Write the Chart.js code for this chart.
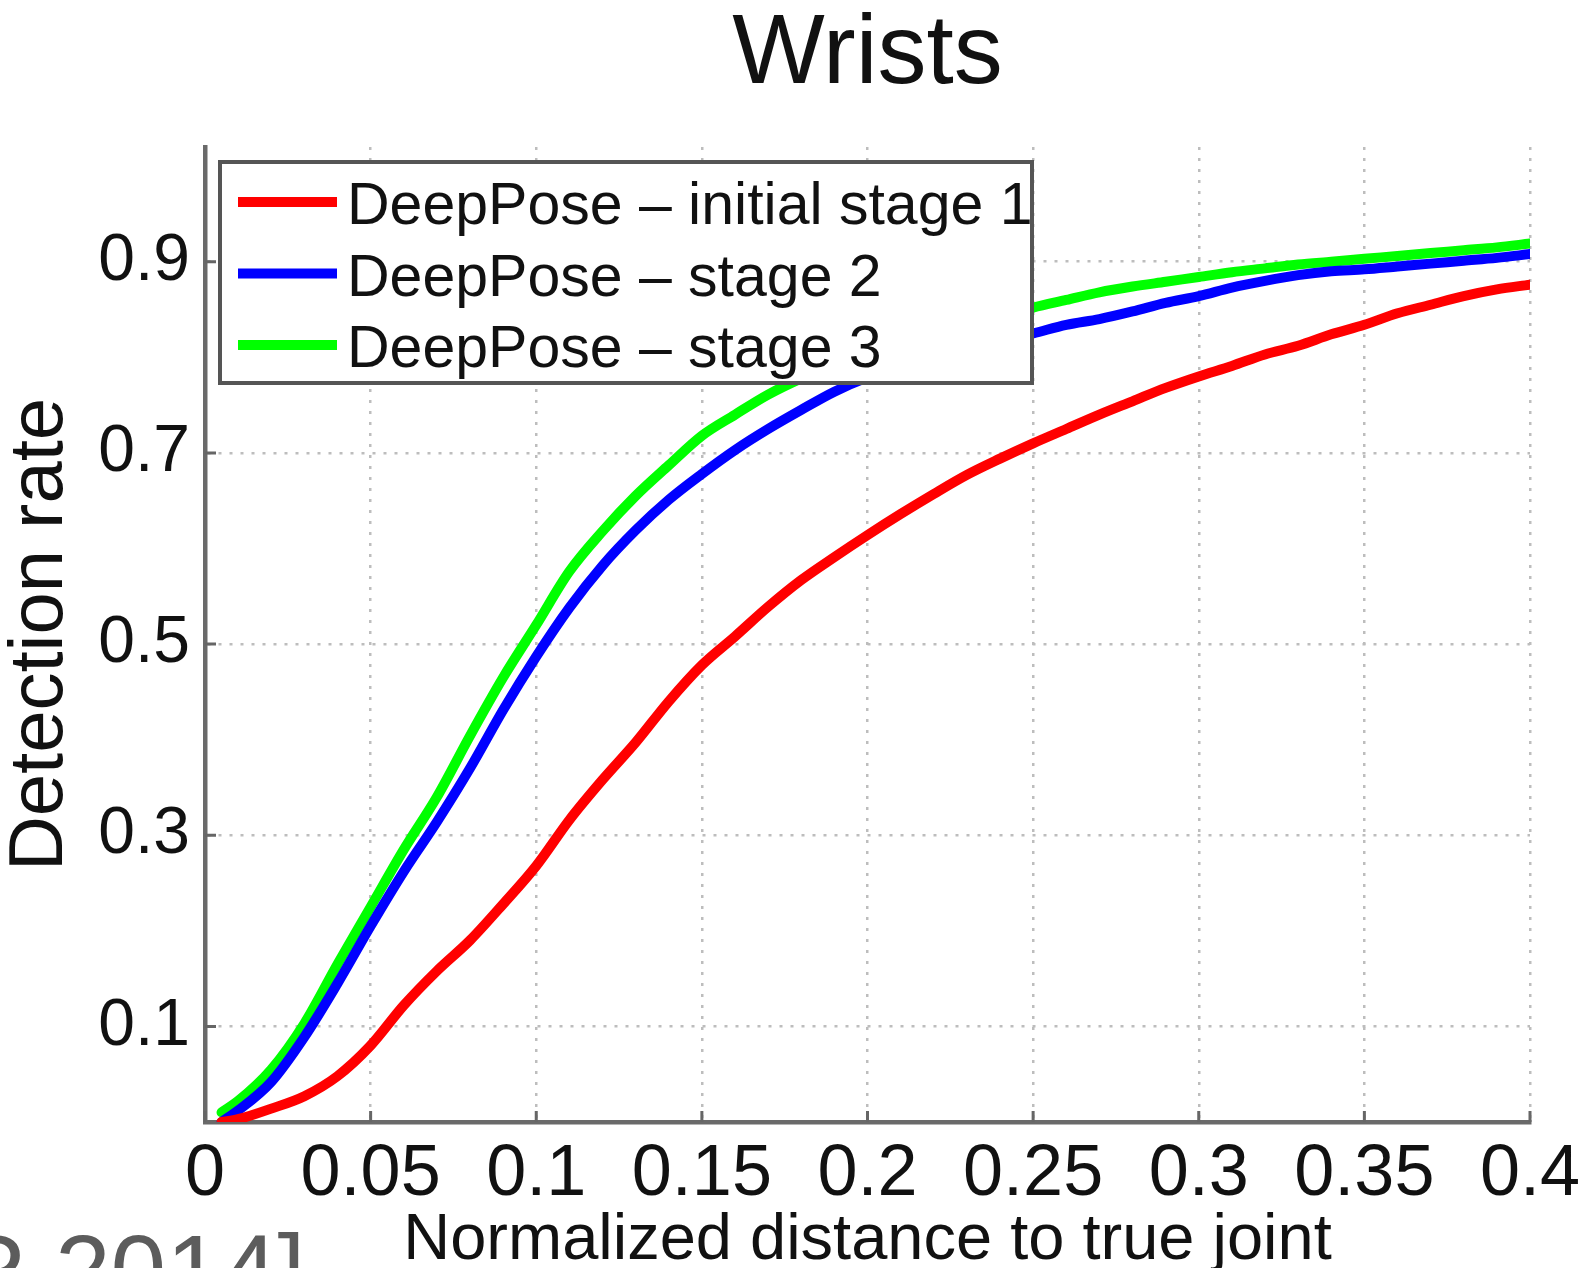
<!DOCTYPE html>
<html>
<head>
<meta charset="utf-8">
<title>Wrists</title>
<script src="https://cdn.jsdelivr.net/npm/chart.js@4.4.1/dist/chart.umd.min.js"></script>
<style>
  html, body { margin: 0; padding: 0; background: #ffffff; overflow: hidden; }
  #wrap { position: relative; width: 1589px; height: 1268px; }
  canvas { display: block; }
</style>
</head>
<body>
<div id="wrap"><canvas id="chart" width="1589" height="1268"></canvas></div>
<script>
// Normalized distance to the true joint (x) at which each detection rate is sampled
const distances = [0.005, 0.01, 0.02, 0.03, 0.04, 0.05, 0.06, 0.07, 0.08, 0.09,
  0.10, 0.11, 0.12, 0.13, 0.14, 0.15, 0.16, 0.17, 0.18, 0.19,
  0.20, 0.21, 0.22, 0.23, 0.24, 0.25, 0.26, 0.27, 0.28, 0.29,
  0.30, 0.31, 0.32, 0.33, 0.34, 0.35, 0.36, 0.37, 0.38, 0.39, 0.40];

// Detection rate per stage
const stage1 = [0.000, 0.003, 0.014, 0.027, 0.048, 0.080, 0.122, 0.158, 0.190, 0.228,
  0.268, 0.316, 0.358, 0.397, 0.440, 0.478, 0.508, 0.539, 0.567, 0.591,
  0.614, 0.636, 0.657, 0.677, 0.694, 0.710, 0.725, 0.740, 0.754, 0.768,
  0.780, 0.791, 0.803, 0.812, 0.824, 0.834, 0.846, 0.855, 0.864, 0.871, 0.876];
const stage2 = [0.000, 0.012, 0.042, 0.089, 0.145, 0.205, 0.262, 0.314, 0.370, 0.431,
  0.487, 0.538, 0.582, 0.619, 0.651, 0.678, 0.703, 0.725, 0.745, 0.764,
  0.779, 0.790, 0.800, 0.809, 0.817, 0.825, 0.834, 0.840, 0.848, 0.857,
  0.864, 0.873, 0.880, 0.886, 0.890, 0.892, 0.895, 0.898, 0.901, 0.904, 0.908];
const stage3 = [0.010, 0.022, 0.055, 0.103, 0.165, 0.225, 0.285, 0.340, 0.404, 0.465,
  0.520, 0.576, 0.618, 0.655, 0.687, 0.718, 0.740, 0.761, 0.778, 0.792,
  0.804, 0.815, 0.825, 0.834, 0.843, 0.852, 0.860, 0.868, 0.874, 0.879,
  0.884, 0.889, 0.893, 0.897, 0.900, 0.903, 0.906, 0.909, 0.912, 0.915, 0.919];

const seriesNames = ['DeepPose \u2013 initial stage 1', 'DeepPose \u2013 stage 2', 'DeepPose \u2013 stage 3'];
const seriesColors = ['#ff0000', '#0000ff', '#00ff00'];

const xTickValues = [0, 0.05, 0.1, 0.15, 0.2, 0.25, 0.3, 0.35, 0.4];
const xTickLabels = ['0', '0.05', '0.1', '0.15', '0.2', '0.25', '0.3', '0.35', '0.4'];
const yTickValues = [0.1, 0.3, 0.5, 0.7, 0.9];
const yTickLabels = ['0.1', '0.3', '0.5', '0.7', '0.9'];

const chartTitle = 'Wrists';
const xTitle = 'Normalized distance to true joint';
const yTitle = 'Detection rate';
const sourceNote = 'R 2014]';

const FONT = "'Liberation Sans', Arial, Helvetica, sans-serif";
Chart.defaults.font.family = FONT;
Chart.defaults.color = '#111111';

const toPoints = (ys) => distances.map((x, i) => ({ x: x, y: ys[i] }));

// Title, inward tick marks, boxed legend and source note
const decorations = {
  id: 'decorations',
  beforeDatasetsDraw(chart) {
    const { ctx, chartArea, scales } = chart;
    ctx.save();
    ctx.strokeStyle = '#666666';
    ctx.lineWidth = 3;
    ctx.beginPath();
    xTickValues.forEach(v => {
      const px = scales.x.getPixelForValue(v);
      ctx.moveTo(px, chartArea.bottom);
      ctx.lineTo(px, chartArea.bottom - 11);
    });
    yTickValues.forEach(v => {
      const py = scales.y.getPixelForValue(v);
      ctx.moveTo(chartArea.left, py);
      ctx.lineTo(chartArea.left + 11, py);
    });
    ctx.stroke();
    ctx.restore();
  },
  afterDatasetsDraw(chart) {
    const { ctx, chartArea } = chart;
    ctx.save();

    // chart title centred over the plot area
    ctx.fillStyle = '#111111';
    ctx.font = '98px ' + FONT;
    ctx.textAlign = 'center';
    ctx.textBaseline = 'middle';
    ctx.fillText(chartTitle, (chartArea.left + chartArea.right) / 2, 56);

    // legend box
    const box = { x: 220, y: 162, w: 812, h: 221 };
    ctx.fillStyle = '#ffffff';
    ctx.fillRect(box.x, box.y, box.w, box.h);
    ctx.font = '59px ' + FONT;
    ctx.textAlign = 'left';
    ctx.textBaseline = 'middle';
    chart.data.datasets.forEach((ds, i) => {
      const y = 202 + i * 71.5;
      ctx.strokeStyle = ds.borderColor;
      ctx.lineWidth = 10;
      ctx.lineCap = 'butt';
      ctx.beginPath();
      ctx.moveTo(238, y);
      ctx.lineTo(337, y);
      ctx.stroke();
      ctx.fillStyle = '#111111';
      ctx.fillText(ds.label, 347, y + 6);
    });
    ctx.strokeStyle = '#555555';
    ctx.lineWidth = 4;
    ctx.strokeRect(box.x, box.y, box.w, box.h);

    // source note, running off the lower-left edge
    ctx.fillStyle = '#5c5c5c';
    ctx.font = '100px ' + FONT;
    ctx.textAlign = 'left';
    ctx.textBaseline = 'alphabetic';
    ctx.fillText(sourceNote, -45, 1305);
    ctx.restore();
  }
};

new Chart(document.getElementById('chart'), {
  type: 'line',
  data: {
    datasets: [stage1, stage2, stage3].map((ys, i) => ({
      label: seriesNames[i],
      data: toPoints(ys),
      borderColor: seriesColors[i],
      backgroundColor: seriesColors[i],
      borderWidth: 10,
      pointRadius: 0,
      fill: false,
      cubicInterpolationMode: 'monotone',
      borderCapStyle: 'round',
      borderJoinStyle: 'round'
    }))
  },
  options: {
    responsive: false,
    animation: false,
    devicePixelRatio: 1,
    layout: { padding: { left: 0, right: 59, top: 147, bottom: 0 } },
    plugins: {
      legend: { display: false },
      title: { display: false },
      tooltip: { enabled: false }
    },
    scales: {
      x: {
        type: 'linear',
        min: 0,
        max: 0.4,
        afterBuildTicks: (s) => { s.ticks = xTickValues.map(v => ({ value: v })); },
        afterFit: (s) => { s.height = 146; s.paddingLeft = 0; s.paddingRight = 0; },
        ticks: {
          autoSkip: false,
          maxRotation: 0,
          minRotation: 0,
          padding: 17,
          color: '#111111',
          font: { size: 72, lineHeight: 1 },
          callback: (v, i) => xTickLabels[i]
        },
        grid: {
          drawTicks: false,
          lineWidth: 2.5,
          color: (c) => (c.tick && c.tick.value === 0) ? 'rgba(0,0,0,0)' : '#bdbdbd'
        },
        border: { display: true, color: '#6a6a6a', width: 4.5, dash: [3, 8] },
        title: {
          display: true,
          text: xTitle,
          color: '#111111',
          font: { size: 65, lineHeight: 0.8 },
          padding: { top: 0, bottom: 1 }
        }
      },
      y: {
        type: 'linear',
        min: 0,
        max: 1.02,
        afterBuildTicks: (s) => { s.ticks = yTickValues.map(v => ({ value: v })); },
        afterFit: (s) => { s.width = 205; s.paddingTop = 0; s.paddingBottom = 0; },
        ticks: {
          autoSkip: false,
          padding: 15,
          color: '#111111',
          font: { size: 66, lineHeight: 1 },
          callback: (v, i) => yTickLabels[i]
        },
        grid: {
          drawTicks: false,
          lineWidth: 2.5,
          color: '#bdbdbd'
        },
        border: { display: true, color: '#6a6a6a', width: 4.5, dash: [3, 8] },
        title: {
          display: true,
          text: yTitle,
          color: '#111111',
          font: { size: 76, lineHeight: 1 },
          padding: { top: 3, bottom: 0 }
        }
      }
    }
  },
  plugins: [decorations]
});
</script>
</body>
</html>
